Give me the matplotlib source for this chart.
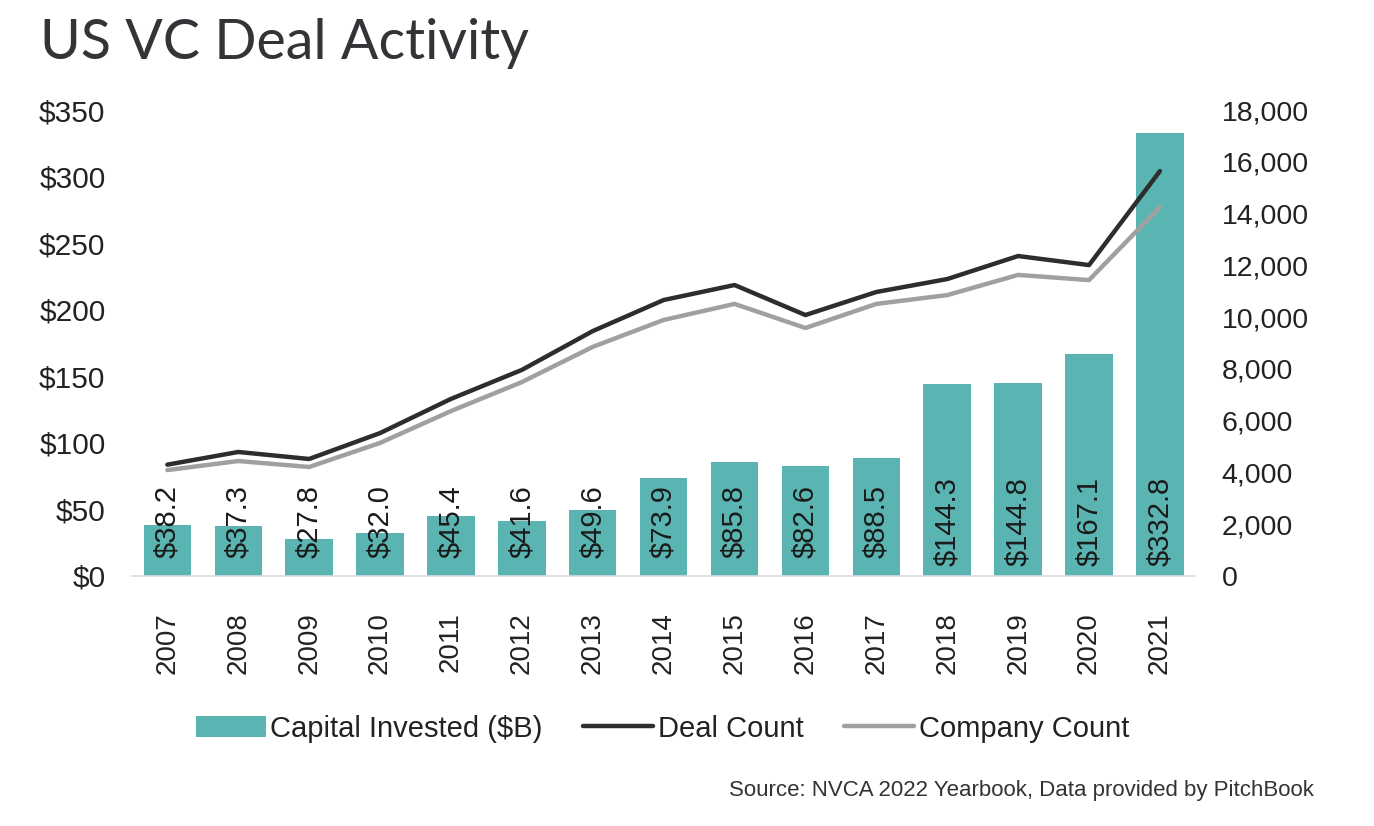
import matplotlib.pyplot as plt
import numpy as np
from matplotlib.ticker import FuncFormatter

# Data.
years = ['2007', '2008', '2009', '2010', '2011', '2012', '2013', '2014',
         '2015', '2016', '2017', '2018', '2019', '2020', '2021']
capital = [38.2, 37.3, 27.8, 32.0, 45.4, 41.6, 49.6, 73.9,
           85.8, 82.6, 88.5, 144.3, 144.8, 167.1, 332.8]
deal_count = [4300, 4790, 4520, 5520, 6840, 7960, 9460, 10660,
              11240, 10080, 10970, 11470, 12360, 12010, 15640]
company_count = [4090, 4440, 4210, 5140, 6370, 7490, 8850, 9890,
                 10510, 9580, 10510, 10850, 11630, 11430, 14250]

teal = '#5ab5b2'
dark = '#2d2d2d'
grey = '#a0a0a0'
text_col = '#222222'

plt.rcParams['font.family'] = ['Liberation Sans', 'DejaVu Sans']

fig = plt.figure(figsize=(13.74, 8.26), dpi=100)
ax = fig.add_axes([0.096, 0.3027, 0.774, 0.5641])
ax2 = ax.twinx()

x = np.arange(len(years))

# Bars with rotated value labels.
ax.bar(x, capital, width=0.67, color=teal, label='Capital Invested ($B)', zorder=2)
for xi, v in zip(x, capital):
    ax.text(xi, 41, '${:.1f}'.format(v), rotation=90, ha='center', va='center',
            fontsize=21, color='#1a1a1a', zorder=3)

ax.set_ylim(0, 350)
ax.set_xlim(-0.5, len(years) - 0.5)
ax.set_yticks(np.arange(0, 351, 50))
ax.yaxis.set_major_formatter(FuncFormatter(lambda v, p: '${:.0f}'.format(v)))
ax.set_xticks(x)
ax.set_xticklabels(years, rotation=90)

# Lines on the right axis.
ax2.plot(x, deal_count, color=dark, lw=3.2, label='Deal Count', solid_capstyle='round', zorder=4)
ax2.plot(x, company_count, color=grey, lw=3.2, label='Company Count', solid_capstyle='round', zorder=3)
ax2.set_ylim(0, 18000)
ax2.set_yticks(np.arange(0, 18001, 2000))
ax2.yaxis.set_major_formatter(FuncFormatter(lambda v, p: '{:,.0f}'.format(v)))

for a in (ax, ax2):
    for s in a.spines.values():
        s.set_visible(False)
    a.tick_params(length=0, labelsize=20, colors=text_col)
ax.tick_params(axis='y', pad=19, labelsize=21.5)
ax.tick_params(axis='x', pad=26)
ax2.tick_params(axis='y', pad=19, labelsize=20.5)
ax.spines['bottom'].set_visible(True)
ax.spines['bottom'].set_color('#d9dbe3')
ax.spines['bottom'].set_linewidth(1.2)

# Legend under the plot.
h1, l1 = ax.get_legend_handles_labels()
h2, l2 = ax2.get_legend_handles_labels()
fig.legend(h1 + h2, l1 + l2, loc='center', bbox_to_anchor=(0.482, 0.118), ncol=3,
           frameon=False, handlelength=2.4, handletextpad=0.15, columnspacing=1.4,
           prop={'size': 21}, labelcolor=text_col)

fig.text(0.029, 0.947, 'US VC Deal Activity', fontsize=40, color='#333338',
         family=['Lato', 'DejaVu Sans'], va='center', ha='left')
fig.text(0.956, 0.043, 'Source: NVCA 2022 Yearbook, Data provided by PitchBook', fontsize=16,
         color='#333333', ha='right', va='center')

fig.savefig('out.png', dpi=100, facecolor='white')
